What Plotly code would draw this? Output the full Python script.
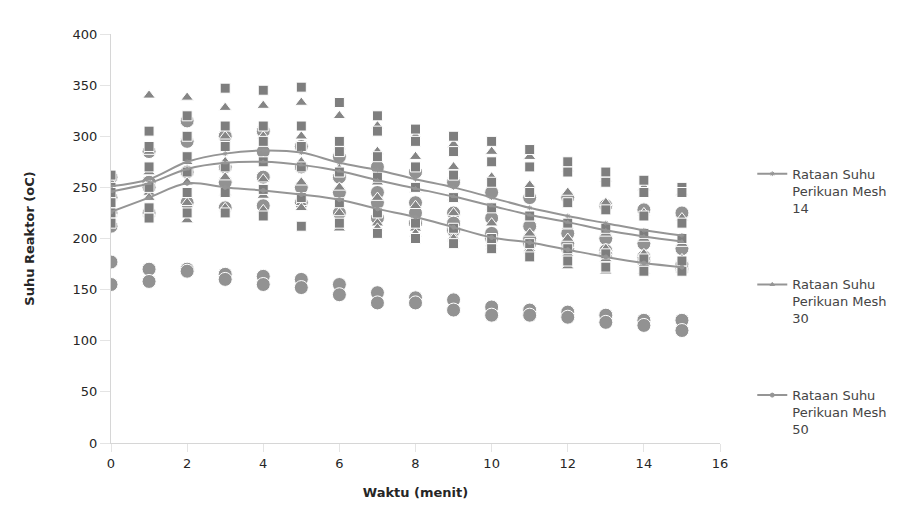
import plotly.graph_objects as go

waktu = list(range(16))

# Mean lines (Rataan)
rataan_mesh14 = [251, 258, 275, 283, 286, 284, 274, 267, 258, 250, 240, 230, 222, 215, 208, 203]
rataan_mesh30 = [246, 254, 268, 274, 275, 272, 266, 257, 249, 241, 232, 223, 216, 208, 202, 197]
rataan_mesh50 = [226, 240, 254, 250, 247, 243, 238, 229, 221, 211, 201, 196, 189, 182, 176, 172]

# Individual measurement points (squares: mesh 14)
mesh14_p1 = [250, 305, 320, 347, 345, 348, 333, 320, 307, 300, 295, 287, 275, 265, 257, 250]
mesh14_p2 = [262, 290, 300, 310, 310, 310, 295, 305, 295, 285, 275, 270, 265, 255, 245, 245]
mesh14_p3 = [245, 270, 280, 290, 295, 290, 285, 280, 270, 262, 255, 245, 235, 228, 222, 215]
mesh14_p4 = [235, 250, 265, 270, 275, 270, 265, 260, 250, 240, 230, 222, 215, 210, 205, 200]
mesh14_p5 = [225, 230, 245, 245, 248, 240, 235, 225, 215, 210, 200, 195, 190, 185, 180, 178]
mesh14_p6 = [215, 220, 225, 225, 222, 212, 215, 205, 200, 195, 190, 182, 178, 172, 168, 168]

# triangles: mesh 30
mesh30_p1 = [255, 340, 338, 328, 330, 333, 320, 310, 300, 292, 285, 280, 268, 258, 250, 245]
mesh30_p2 = [248, 285, 300, 300, 300, 300, 290, 285, 280, 270, 260, 252, 245, 235, 225, 220]
mesh30_p3 = [240, 265, 275, 275, 275, 275, 268, 255, 248, 240, 230, 220, 212, 205, 200, 195]
mesh30_p4 = [230, 245, 255, 260, 258, 255, 250, 240, 232, 225, 215, 205, 200, 190, 185, 180]
mesh30_p5 = [225, 225, 235, 245, 242, 235, 225, 215, 210, 202, 195, 190, 173, 168, 168, 170]
mesh30_p6 = [220, 240, 218, 230, 228, 230, 210, 210, 205, 200, 192, 188, 185, 180, 175, 172]

# circles: mesh 50
mesh50_p1 = [260, 285, 315, 300, 305, 290, 280, 270, 265, 255, 245, 240, 240, 232, 228, 225]
mesh50_p2 = [240, 255, 295, 270, 285, 270, 260, 245, 235, 225, 220, 212, 205, 200, 195, 190]
mesh50_p3 = [225, 225, 235, 230, 232, 235, 225, 220, 215, 208, 200, 195, 190, 185, 178, 170]
mesh50_p4 = [212, 250, 265, 255, 260, 250, 245, 235, 225, 215, 205, 200, 195, 188, 182, 175]
mesh50_p5 = [177, 170, 170, 165, 163, 160, 155, 147, 142, 140, 133, 130, 128, 125, 120, 120]
mesh50_p6 = [155, 158, 168, 160, 155, 152, 145, 137, 137, 130, 125, 125, 123, 118, 115, 110]

x_ticks = [0, 2, 4, 6, 8, 10, 12, 14, 16]
y_ticks = [0, 50, 100, 150, 200, 250, 300, 350, 400]

FONT = "DejaVu Sans"
fig = go.Figure()

groups = [
    ([mesh50_p1, mesh50_p2, mesh50_p3, mesh50_p4, mesh50_p5, mesh50_p6], "circle", 14, "#929292"),
    ([mesh30_p1, mesh30_p2, mesh30_p3, mesh30_p4, mesh30_p5, mesh30_p6], "triangle-up", 11, "#858585"),
    ([mesh14_p1, mesh14_p2, mesh14_p3, mesh14_p4, mesh14_p5, mesh14_p6], "square", 10, "#7e7e7e"),
]
for reps, sym, size, col in groups:
    for r in reps:
        fig.add_trace(go.Scatter(
            x=waktu, y=r, mode="markers", showlegend=False, hoverinfo="skip",
            marker=dict(symbol=sym, size=size, color=col, line=dict(color="white", width=1)),
        ))

means = [
    (rataan_mesh14, "Rataan Suhu<br>Perikuan Mesh<br>14", "asterisk", "g14"),
    (rataan_mesh30, "Rataan Suhu<br>Perikuan Mesh<br>30", "triangle-up", "g30"),
    (rataan_mesh50, "Rataan Suhu<br>Perikuan Mesh<br>50", "circle", "g50"),
]
for vals, name, sym, grp in means:
    fig.add_trace(go.Scatter(
        x=waktu, y=vals, mode="lines+markers", name=name, legendgroup=grp,
        line=dict(color="#959595", width=2, shape="spline"),
        marker=dict(symbol=sym, size=4, color="#959595", line=dict(color="#959595", width=1)),
    ))

axis_common = dict(
    showgrid=False, zeroline=False, showline=True, linecolor="#d6d6d6", linewidth=1,
    ticks="outside", tickcolor="#e4e4e4",
    tickfont=dict(family=FONT, size=13, color="#262626"),
)
fig.update_xaxes(range=[0, 16], tickvals=x_ticks, ticktext=[str(v) for v in x_ticks],
                 ticklen=8,
                 title=dict(text="<b>Waktu (menit)</b>", font=dict(family=FONT, size=13, color="#262626"), standoff=18),
                 **axis_common)
fig.update_yaxes(range=[0, 400], tickvals=y_ticks, ticktext=[str(v) for v in y_ticks],
                 ticklen=10,
                 title=dict(text="<b>Suhu Reaktor (oC)</b>", font=dict(family=FONT, size=13, color="#262626"), standoff=35),
                 **axis_common)

fig.update_layout(
    width=906, height=516,
    margin=dict(l=103, r=194, t=26, b=81),
    plot_bgcolor="white", paper_bgcolor="white",
    font=dict(family=FONT, size=12, color="#333333"),
    legend=dict(x=1.053, y=0.695, xanchor="left", yanchor="top", tracegroupgap=57,
                valign="top", font=dict(family=FONT, size=13, color="#444444"),
                bgcolor="rgba(0,0,0,0)"),
)

fig.write_html("out.html")
